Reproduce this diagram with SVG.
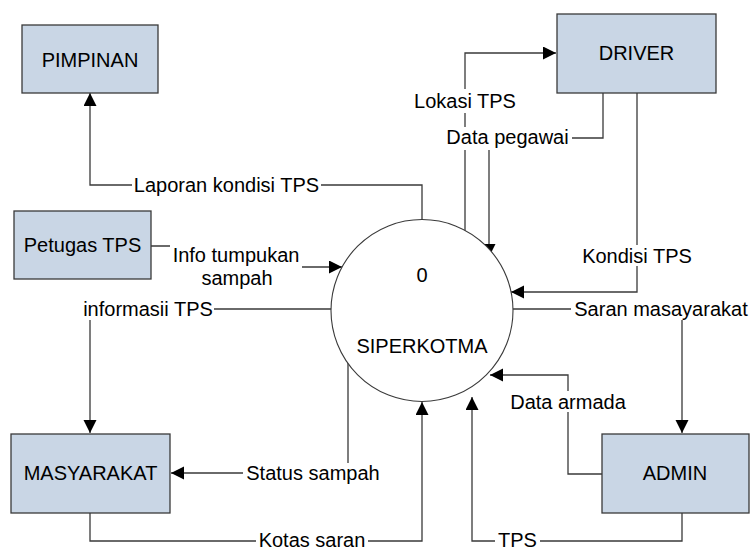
<svg xmlns="http://www.w3.org/2000/svg" width="750" height="552" viewBox="0 0 750 552">
<style>
.box{fill:#c9d6e5;stroke:#3a3a3a;stroke-width:1.3}
.t{font-family:"Liberation Sans",Arial,sans-serif;font-size:20px;fill:#000;text-anchor:middle}
.ln{fill:none;stroke:#3a3a3a;stroke-width:1.3}
.bg{fill:#fff}
</style>
<defs>
<marker id="arr" markerUnits="userSpaceOnUse" markerWidth="14" markerHeight="14" refX="13" refY="6.5" orient="auto">
<path d="M0,0 L13,6.5 L0,13 z" fill="#000"/>
</marker>
</defs>
<rect width="750" height="552" fill="#fff"/>
<g id="connectors">
<polyline class="ln" points="422,220 422,185 90,185 90,93" marker-end="url(#arr)"/>
<polyline class="ln" points="151,246 236,246 236,267 342,267" marker-end="url(#arr)"/>
<polyline class="ln" points="331,309 90,309 90,433" marker-end="url(#arr)"/>
<polyline class="ln" points="348,363 348,473 171,473" marker-end="url(#arr)"/>
<polyline class="ln" points="90,513 90,541 422,541 422,402" marker-end="url(#arr)"/>
<polyline class="ln" points="682,513 682,541 472,541 472,397" marker-end="url(#arr)"/>
<polyline class="ln" points="602,474 568,474 568,375 490,375" marker-end="url(#arr)"/>
<polyline class="ln" points="513,309 682,309 682,433" marker-end="url(#arr)"/>
<polyline class="ln" points="637,93 637,292 511,292" marker-end="url(#arr)"/>
<polyline class="ln" points="603,93 603,138 489,138 489,257" marker-end="url(#arr)"/>
<polyline class="ln" points="465,235 465,53 556,53" marker-end="url(#arr)"/>
</g>
<g id="labels">
<rect class="bg" x="132" y="175" width="189" height="21"/>
<text class="t" x="226.5" y="192">Laporan kondisi TPS</text>
<rect class="bg" x="170" y="240" width="132" height="50"/>
<text class="t" x="236" y="262">Info tumpukan</text>
<text class="t" x="237" y="285">sampah</text>
<rect class="bg" x="82" y="299" width="132" height="21"/>
<text class="t" x="148" y="316">informasii TPS</text>
<rect class="bg" x="243" y="463" width="141" height="21"/>
<text class="t" x="313" y="480">Status sampah</text>
<rect class="bg" x="256" y="530" width="112" height="21"/>
<text class="t" x="312" y="547">Kotas saran</text>
<rect class="bg" x="495" y="530" width="45" height="21"/>
<text class="t" x="517.5" y="547">TPS</text>
<rect class="bg" x="508" y="391" width="119" height="21"/>
<text class="t" x="568" y="409">Data armada</text>
<rect class="bg" x="571" y="299" width="179" height="21"/>
<text class="t" x="661" y="316">Saran masayarakat</text>
<rect class="bg" x="580" y="245" width="114" height="21"/>
<text class="t" x="637" y="263">Kondisi TPS</text>
<rect class="bg" x="443" y="127" width="129" height="23"/>
<text class="t" x="507.5" y="144">Data pegawai</text>
<rect class="bg" x="412" y="89" width="107" height="24"/>
<text class="t" x="465" y="108">Lokasi TPS</text>
</g>
<g id="pimpinan"><rect class="box" x="22" y="25" width="136" height="68"/><text class="t" x="90" y="67">PIMPINAN</text></g>
<g id="petugas"><rect class="box" x="14" y="211" width="137" height="68"/><text class="t" x="82.5" y="252">Petugas TPS</text></g>
<g id="driver"><rect class="box" x="557" y="14" width="159" height="79"/><text class="t" x="636.5" y="60">DRIVER</text></g>
<g id="masyarakat"><rect class="box" x="11" y="434" width="159" height="79"/><text class="t" x="90.5" y="480">MASYARAKAT</text></g>
<g id="admin"><rect class="box" x="602" y="434" width="147" height="79"/><text class="t" x="675" y="480">ADMIN</text></g>
<g id="siperkotma"><circle cx="422" cy="310.5" r="91" fill="#fff" stroke="#3a3a3a" stroke-width="1.1"/><text class="t" x="422" y="282">0</text><text class="t" x="422" y="353">SIPERKOTMA</text></g>
</svg>
